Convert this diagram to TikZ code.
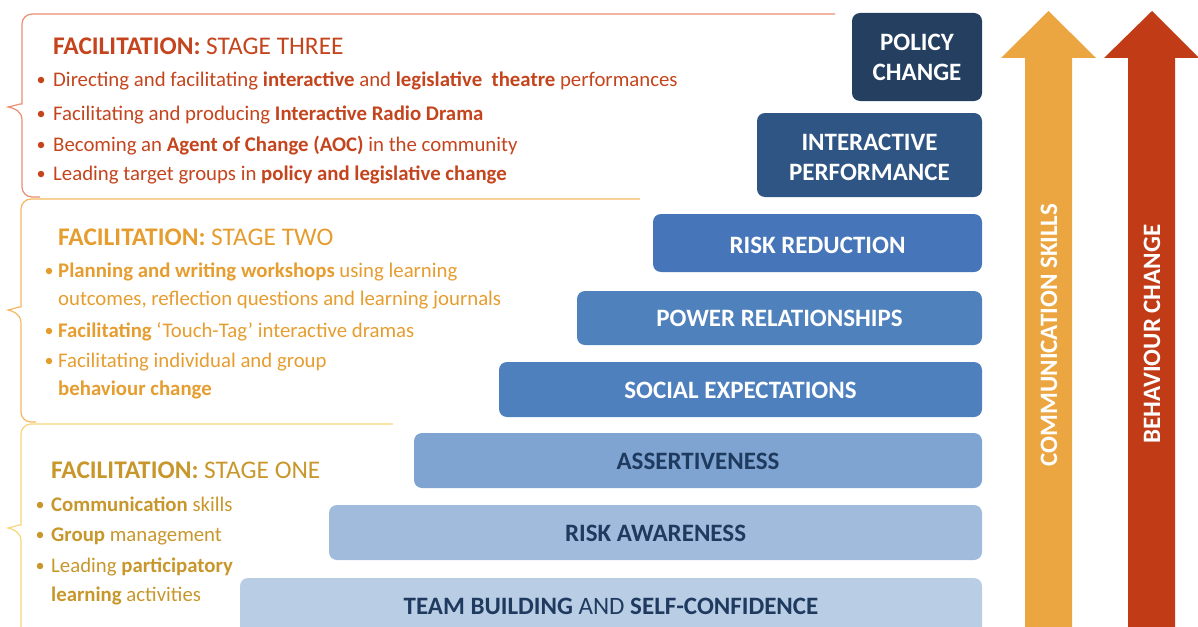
\documentclass[tikz,border=0pt]{standalone}
\usepackage{fontspec}
\setmainfont{Carlito}
\definecolor{cThree}{HTML}{C4441D}
\definecolor{cTwo}{HTML}{E69D30}
\definecolor{cOne}{HTML}{C8972C}
\definecolor{bThree}{HTML}{EB8E72}
\definecolor{bTwo}{HTML}{F4B95F}
\definecolor{bOne}{HTML}{F8D57A}
\definecolor{s1}{HTML}{B9CDE5}
\definecolor{s2}{HTML}{A0BBDB}
\definecolor{s3}{HTML}{7FA4D1}
\definecolor{s4}{HTML}{4E80BE}
\definecolor{s5}{HTML}{4F81BD}
\definecolor{s6}{HTML}{4676B9}
\definecolor{s7}{HTML}{2F5584}
\definecolor{s8}{HTML}{243F60}
\definecolor{navy}{HTML}{1F3A5F}
\definecolor{arrO}{HTML}{EBA641}
\definecolor{arrR}{HTML}{C13B16}
\begin{document}
\begin{tikzpicture}[x=1pt,y=-1pt,
  txt/.style={anchor=base west,inner sep=0pt,font=\fontsize{20.8}{25}\selectfont},
  ttl/.style={anchor=base west,inner sep=0pt,font=\fontsize{25.4}{30}\selectfont},
  bul/.style={circle,inner sep=0pt,minimum size=6.5pt},
  stepbox/.style={rounded corners=8pt,inner sep=0pt},
  steptxt/.style={align=center,inner sep=0pt,font=\fontsize{25}{30}\selectfont\bfseries},
  brace/.style={line width=1.2pt,rounded corners=10pt}]
\clip (0,0) rectangle (1198,626);
% braces
\draw[brace,bThree] (835,14) -- (22,14) -- (22,94) [rounded corners=0pt] .. controls (22,103) and (14,106) .. (8,107) .. controls (14,108) and (22,111) .. (22,120) [rounded corners=10pt] -- (22,197) -- (40,197);
\draw[brace,bTwo] (640,199) -- (21,199) -- (21,297) [rounded corners=0pt] .. controls (21,306) and (13,309) .. (8,310) .. controls (13,311) and (21,314) .. (21,323) [rounded corners=10pt] -- (21,422) -- (36,422);
\draw[brace,bOne] (393,424) -- (21,424) -- (21,515) [rounded corners=0pt] .. controls (21,524) and (13,527) .. (8,528) .. controls (13,529) and (21,532) .. (21,541) -- (21,640);
% stage three
\node[ttl,text=cThree] (t3) at (53,55) {\textbf{FACILITATION:} STAGE THREE};
\node[txt,text=cThree] (l31) at (53,86) {Directing and facilitating \textbf{interactive} and \textbf{legislative\ \ theatre} performances};
\node[txt,text=cThree] (l32) at (53,120) {Facilitating and producing \textbf{Interactive Radio Drama}};
\node[txt,text=cThree] (l33) at (53,151) {Becoming an \textbf{Agent of Change (AOC)} in the community};
\node[txt,text=cThree] (l34) at (53,180) {Leading target groups in \textbf{policy and legislative change}};
\node[bul,fill=cThree] (b31) at (41,80) {};
\node[bul,fill=cThree] (b32) at (41,114) {};
\node[bul,fill=cThree] (b33) at (41,145) {};
\node[bul,fill=cThree] (b34) at (41,174) {};
% stage two
\node[ttl,text=cTwo] (t2) at (58,245) {\textbf{FACILITATION:} STAGE TWO};
\node[txt,text=cTwo] (l21) at (58,277) {\textbf{Planning and writing workshops} using learning};
\node[txt,text=cTwo] (l22) at (58,305) {outcomes, reflection questions and learning journals};
\node[txt,text=cTwo] (l23) at (58,337) {\textbf{Facilitating} ‘Touch-Tag’ interactive dramas};
\node[txt,text=cTwo] (l24) at (58,367) {Facilitating individual and group};
\node[txt,text=cTwo] (l25) at (58,395) {\textbf{behaviour change}};
\node[bul,fill=cTwo] (b21) at (49,271) {};
\node[bul,fill=cTwo] (b23) at (49,331) {};
\node[bul,fill=cTwo] (b24) at (49,361) {};
% stage one
\node[ttl,text=cOne] (t1) at (51,478) {\textbf{FACILITATION:} STAGE ONE};
\node[txt,text=cOne] (l11) at (51,511) {\textbf{Communication} skills};
\node[txt,text=cOne] (l12) at (51,541) {\textbf{Group} management};
\node[txt,text=cOne] (l13) at (51,572) {Leading \textbf{participatory}};
\node[txt,text=cOne] (l14) at (51,601) {\textbf{learning} activities};
\node[bul,fill=cOne] (b11) at (40,505) {};
\node[bul,fill=cOne] (b12) at (40,535) {};
\node[bul,fill=cOne] (b13) at (40,566) {};
% steps
\fill[stepbox,s8] (852,13) rectangle (982,101);
\fill[stepbox,s7] (757,113) rectangle (982,197);
\fill[stepbox,s6] (653,214) rectangle (982,272);
\fill[stepbox,s5] (577,291) rectangle (982,345);
\fill[stepbox,s4] (499,362) rectangle (982,417);
\fill[stepbox,s3] (414,433) rectangle (982,488);
\fill[stepbox,s2] (329,505) rectangle (982,560);
\fill[stepbox,s1] (240,578) rectangle (982,650);
\node[steptxt,text=white] (n8) at (917,57) {POLICY\\CHANGE};
\node[steptxt,text=white] (n7) at (869.5,157) {INTERACTIVE\\PERFORMANCE};
\node[steptxt,text=white] (n6) at (817.5,245) {RISK REDUCTION};
\node[steptxt,text=white] (n5) at (779.5,318) {POWER RELATIONSHIPS};
\node[steptxt,text=white] (n4) at (740.5,390) {SOCIAL EXPECTATIONS};
\node[steptxt,text=navy] (n3) at (698,461) {ASSERTIVENESS};
\node[steptxt,text=navy] (n2) at (655.5,533) {RISK AWARENESS};
\node[steptxt,text=navy] (n1) at (611,606) {TEAM BUILDING \mdseries AND \bfseries SELF-CONFIDENCE};
% arrows
\fill[arrO] (1025,640) -- (1025,58) -- (1001,58) -- (1048.5,11) -- (1096,58) -- (1072,58) -- (1072,640) -- cycle;
\fill[arrR] (1128,640) -- (1128,58) -- (1104,58) -- (1152,11) -- (1199,58) -- (1175,58) -- (1175,640) -- cycle;
\node[steptxt,text=white,rotate=90] (a1) at (1049,335) {COMMUNICATION SKILLS};
\node[steptxt,text=white,rotate=90] (a2) at (1152,334) {BEHAVIOUR CHANGE};
\end{tikzpicture}
\end{document}
